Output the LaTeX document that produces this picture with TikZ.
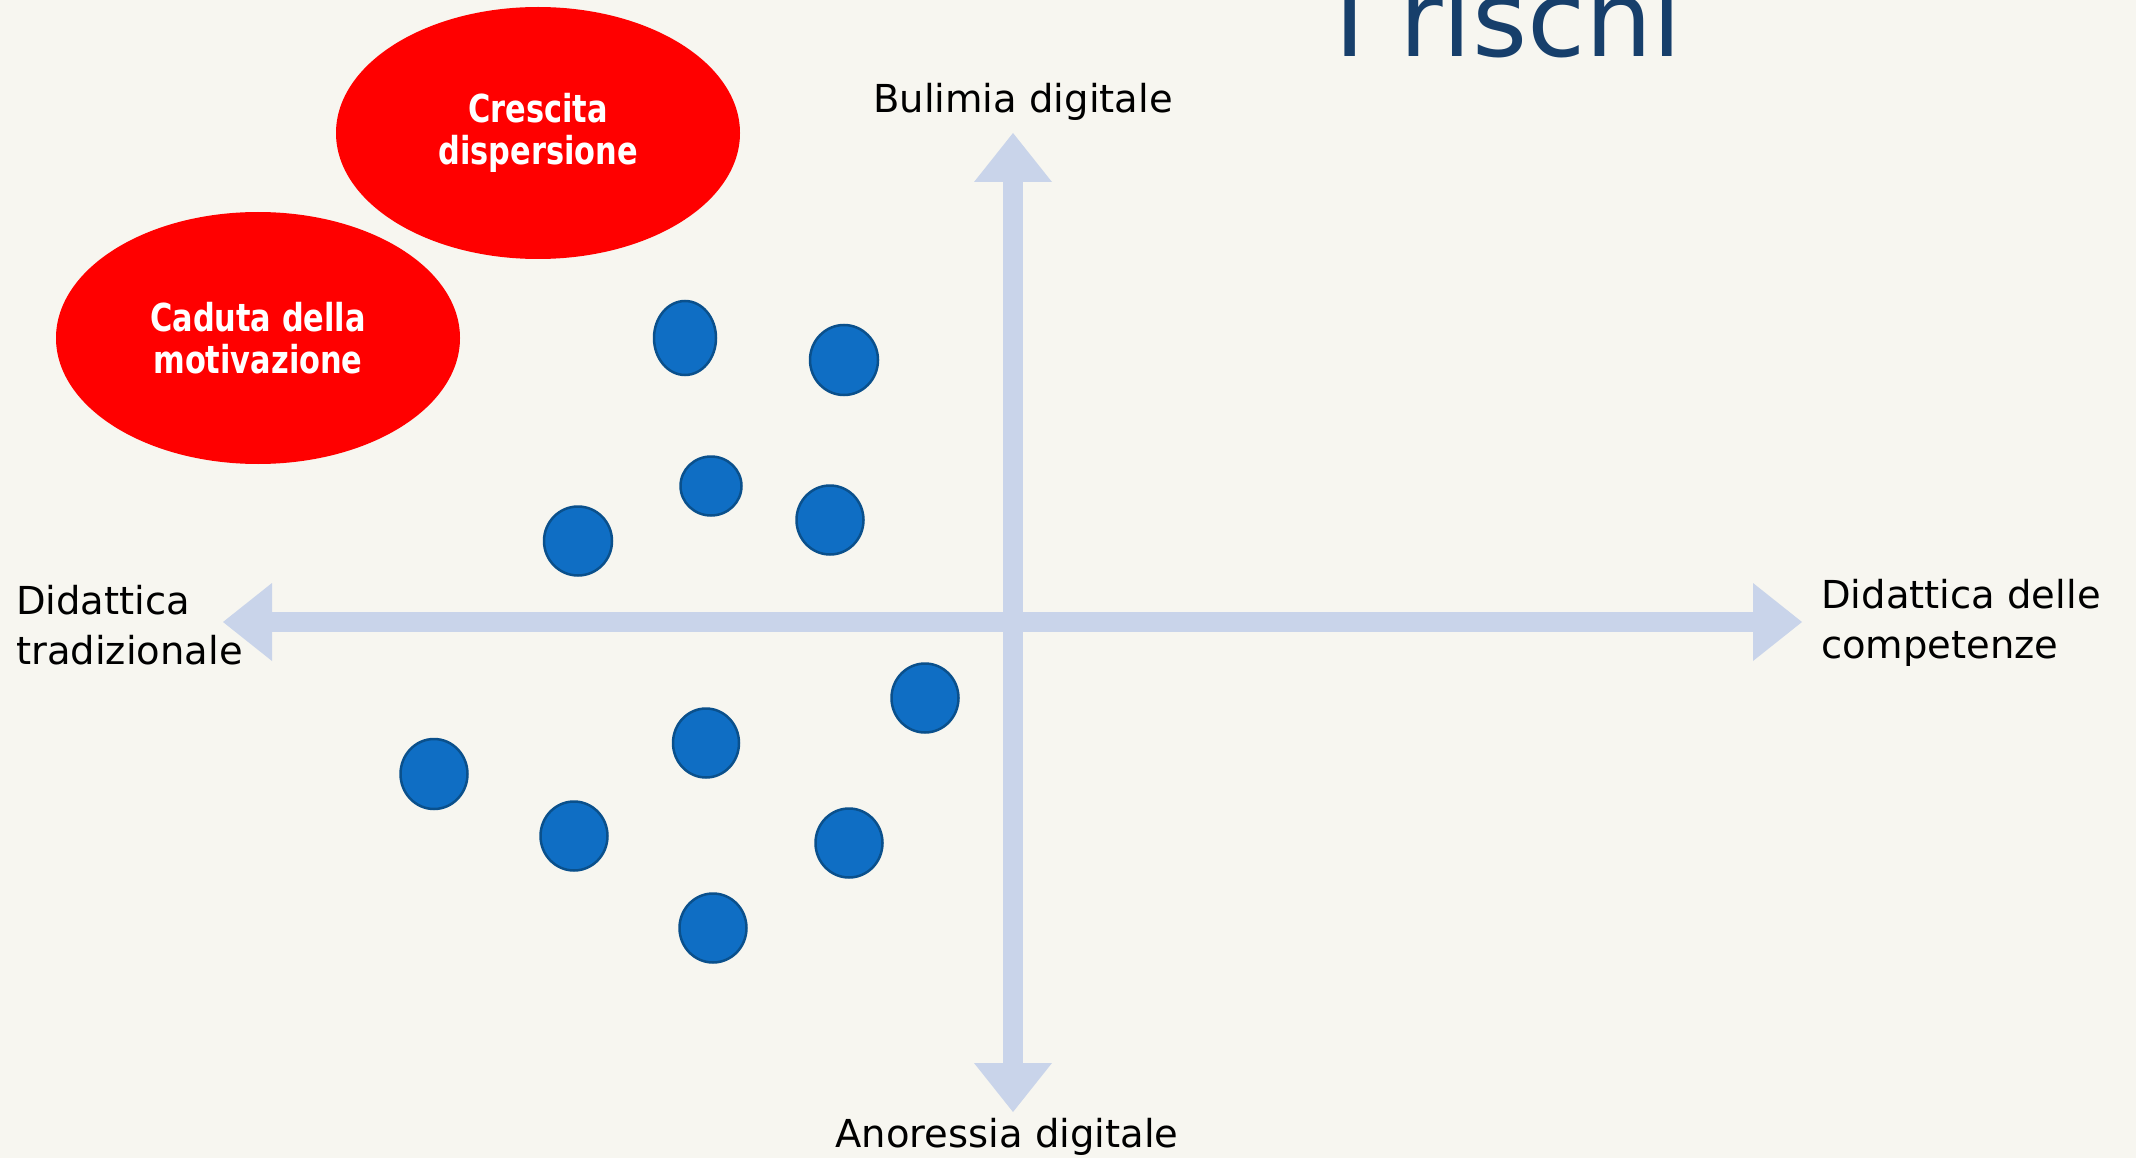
\documentclass[tikz,border=0pt]{standalone}
\usepackage{fontspec}
\setmainfont{DejaVu Sans}
\newfontfamily\ellfont{DejaVu Sans}[FakeStretch=0.79]
\usetikzlibrary{shapes.geometric,arrows.meta}
\definecolor{bg}{RGB}{247,246,240}
\definecolor{axiscol}{RGB}{201,212,234}
\definecolor{riskred}{RGB}{255,0,0}
\definecolor{dotfill}{RGB}{15,110,196}
\definecolor{dotedge}{RGB}{10,80,140}
\definecolor{titleblue}{RGB}{23,63,107}
\begin{document}
\begin{tikzpicture}[x=1pt,y=-1pt,
  axistip/.tip={Triangle[length=49pt,width=78pt,line width=0pt]},
  axis/.style={draw=axiscol, fill=axiscol, line width=19.5pt, axistip-axistip},
  risk/.style={ellipse, fill=riskred, minimum width=404pt, minimum height=252pt, inner sep=0pt, text=white, align=center, font=\ellfont\bfseries\fontsize{38.5}{42}\selectfont},
  dot/.style={ellipse, fill=dotfill, draw=dotedge, line width=2.5pt, inner sep=0pt},
  lbl/.style={font=\fontsize{38.5}{50}\selectfont, text=black, inner sep=0pt}
]
\fill[bg] (0,0) rectangle (2136,1158);
\useasboundingbox (0,0) rectangle (2136,1158);

% title
\node[anchor=base west, text=titleblue, font=\fontsize{106}{110}\selectfont, inner sep=0pt] (title) at (1334,57) {I rischi};

% axes
\coordinate (axL) at (223,622);
\coordinate (axR) at (1802,622);
\coordinate (axT) at (1013,133);
\coordinate (axB) at (1013,1112);
\draw[axis] (axL) -- (axR);
\draw[axis] (axT) -- (axB);

% axis labels
\node[lbl, anchor=base] (bul) at (1023,113) {Bulimia digitale};
\node[lbl, anchor=base] (ano) at (1007,1147) {Anoressia digitale};
\node[lbl, anchor=north west, align=left] (dcomp) at (1821,579) {Didattica delle\\competenze};
\node[lbl, anchor=north west, align=left] (dtrad) at (16,585) {Didattica\\tradizionale};

% risk ellipses
\node[risk] (cresc) at (538,133) {Crescita\\dispersione};
\node[risk] (cad) at (258,338) {Caduta della\\motivazione};

% dots
\node[dot, minimum width=62pt, minimum height=74pt] (d1) at (685,338) {};
\node[dot, minimum width=68pt, minimum height=70pt] (d2) at (844,360) {};
\node[dot, minimum width=61pt, minimum height=59pt] (d3) at (711,486) {};
\node[dot, minimum width=67pt, minimum height=69pt] (d4) at (830,520) {};
\node[dot, minimum width=68pt, minimum height=69pt] (d5) at (578,541) {};
\node[dot, minimum width=67pt, minimum height=70pt] (d6) at (434,774) {};
\node[dot, minimum width=67pt, minimum height=69pt] (d7) at (574,836) {};
\node[dot, minimum width=66pt, minimum height=69pt] (d8) at (706,743) {};
\node[dot, minimum width=67pt, minimum height=69pt] (d9) at (713,928) {};
\node[dot, minimum width=67pt, minimum height=69pt] (d10) at (849,843) {};
\node[dot, minimum width=67pt, minimum height=69pt] (d11) at (925,698) {};
\end{tikzpicture}
\end{document}
